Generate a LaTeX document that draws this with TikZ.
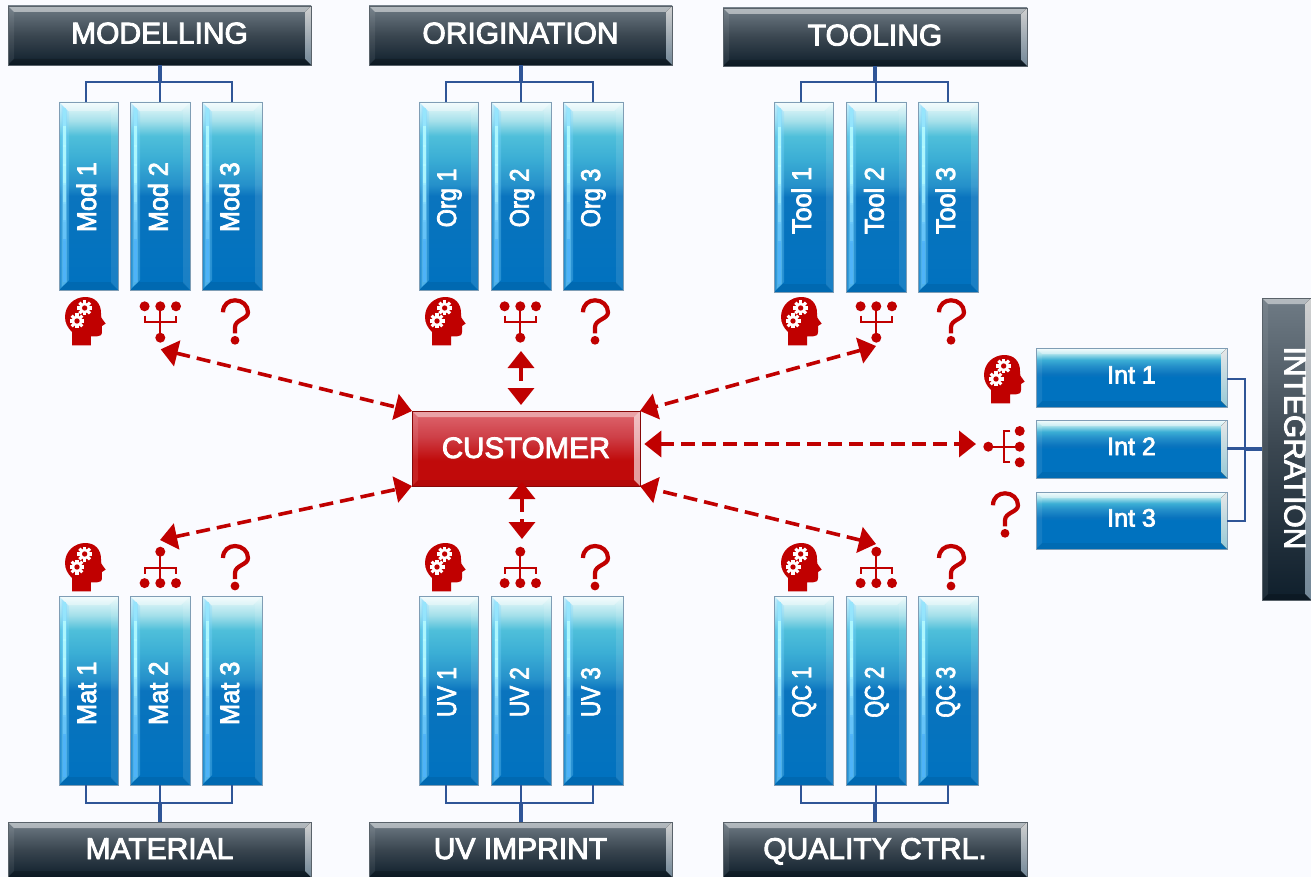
\documentclass[tikz,border=0pt]{standalone}
\usepackage{graphicx}
\usepackage{fontspec}
\setmainfont{Liberation Sans}
\newfontfamily\medfont[FakeBold=3]{Liberation Sans}
\usetikzlibrary{arrows.meta,calc}
\definecolor{bg}{HTML}{FAFBFF}
\definecolor{iconred}{HTML}{C00000}
\definecolor{linkblue}{HTML}{2F5597}
\definecolor{bA}{HTML}{EEFBFC}\definecolor{bB}{HTML}{A5E0EA}\definecolor{bC}{HTML}{4FBFDA}\definecolor{bD}{HTML}{3BAED5}\definecolor{bG}{HTML}{2590CA}\definecolor{bE}{HTML}{0A74BE}\definecolor{bF}{HTML}{0072BF}
\definecolor{dA}{HTML}{6F7B85}\definecolor{dB}{HTML}{3A4650}\definecolor{dC}{HTML}{0F1F2C}
\definecolor{rA}{HTML}{DC6068}\definecolor{rB}{HTML}{CE4048}\definecolor{rC}{HTML}{C00A0A}
\definecolor{glowtop}{HTML}{B4FBFF}\definecolor{glowlow}{HTML}{4FB4FA}
\definecolor{glowside}{HTML}{7FD8FF}
\definecolor{boxedge}{HTML}{7F9DB5}
\definecolor{barlow}{HTML}{8FA8BC}
\pgfdeclareverticalshading{bluetall}{100bp}{color(0bp)=(bF);color(25bp)=(bF);color(50bp)=(bE);color(53bp)=(bG);color(60bp)=(bD);color(66bp)=(bC);color(70bp)=(bB);color(75bp)=(bA);color(100bp)=(bA)}
\pgfdeclareverticalshading{bluewide}{100bp}{color(0bp)=(bF);color(25bp)=(bF);color(50bp)=(bF);color(53bp)=(bE);color(60bp)=(bG);color(65bp)=(bD);color(70bp)=(bB);color(75bp)=(bA);color(100bp)=(bA)}
\pgfdeclareverticalshading{darkbar}{100bp}{color(0bp)=(dC);color(25bp)=(dC);color(50bp)=(dB);color(75bp)=(dA);color(100bp)=(dA)}
\pgfdeclareverticalshading{redbar}{100bp}{color(0bp)=(rC);color(25bp)=(rC);color(42bp)=(rC);color(58bp)=(rB);color(72bp)=(rA);color(100bp)=(rA)}
\tikzset{
  x=1pt,y=-1pt,
  btnbase/.style={rectangle,inner sep=0pt,outer sep=0pt,text=white,align=center},
  bevelbands/.style n args={5}{path picture={
     \coordinate (nw) at (path picture bounding box.north west);
     \coordinate (ne) at (path picture bounding box.north east);
     \coordinate (sw) at (path picture bounding box.south west);
     \coordinate (se) at (path picture bounding box.south east);
     \fill[white,opacity=#2] (nw) -- (ne) -- ([shift={(-#1pt,-#1pt)}]ne) -- ([shift={(#1pt,-#1pt)}]nw) -- cycle;
     \fill[#3] (nw) -- ([shift={(#1pt,-#1pt)}]nw) -- ([shift={(#1pt,#1pt)}]sw) -- (sw) -- cycle;
     \fill[#4] (ne) -- ([shift={(-#1pt,-#1pt)}]ne) -- ([shift={(-#1pt,#1pt)}]se) -- (se) -- cycle;
     \fill[#5] (sw) -- ([shift={(#1pt,#1pt)}]sw) -- ([shift={(-#1pt,#1pt)}]se) -- (se) -- cycle;
  }},
  tallbox/.style={btnbase,shading=bluetall,draw=boxedge,line width=.7pt,
     path picture={
     \coordinate (nw) at (path picture bounding box.north west);
     \coordinate (ne) at (path picture bounding box.north east);
     \coordinate (sw) at (path picture bounding box.south west);
     \coordinate (se) at (path picture bounding box.south east);
     \fill[white,opacity=.35] (nw) -- (ne) -- ([shift={(-9pt,-9pt)}]ne) -- ([shift={(9pt,-9pt)}]nw) -- cycle;
     \fill[white,opacity=.1] (ne) -- ([shift={(-7pt,-7pt)}]ne) -- ([shift={(-7pt,7pt)}]se) -- (se) -- cycle;
     \fill[black,opacity=.07] (sw) -- ([shift={(9pt,8pt)}]sw) -- ([shift={(-7pt,8pt)}]se) -- (se) -- cycle;
     \fill[glowside,opacity=.3] ([shift={(1pt,-1pt)}]nw) -- ([shift={(10pt,-10pt)}]nw) -- ([shift={(10pt,10pt)}]sw) -- ([shift={(1pt,1pt)}]sw) -- cycle;
     \fill[glowside,opacity=.45] ([shift={(2.5pt,-3pt)}]nw) -- ([shift={(8pt,-8pt)}]nw) -- ([shift={(8pt,8pt)}]sw) -- ([shift={(2.5pt,3pt)}]sw) -- cycle;
     \foreach \fa/\fb/\mixv in {.03/.14/30,.13/.24/0,.23/.34/0,.33/.44/0,.43/.54/25,.53/.64/50,.63/.74/75,.73/.84/100,.83/.96/100}{
       \fill[glowlow!\mixv!glowtop,opacity=.9]
         ([xshift=4pt]$(nw)!\fa!(sw)$) rectangle ([xshift=6.8pt]$(nw)!\fb!(sw)$);
     }
     }},
  widebox/.style={btnbase,shading=bluewide,draw=boxedge,line width=.7pt,font=\medfont\fontsize{25}{25}\selectfont,text height=18pt,text depth=0pt,
     bevelbands={6}{.4}{white,opacity=.08}{top color=white,bottom color=bC!50!white,opacity=.9}{black,opacity=.06}},
  darkbox/.style={btnbase,shading=darkbar,draw=black!20!dA,line width=.8pt,font=\medfont\fontsize{30}{30}\selectfont,text height=22pt,text depth=0pt,
     bevelbands={6}{.48}{white,opacity=.07}{top color=white,bottom color=barlow,opacity=.8}{black,opacity=.2}},
  redbox/.style={btnbase,shading=redbar,draw=rC!70!black,line width=.8pt,font=\medfont\fontsize{29.5}{30}\selectfont,text height=21pt,text depth=0pt,
     bevelbands={6}{.42}{white,opacity=.1}{white,opacity=.6}{black,opacity=.06}},
  uptext/.style={text=white,inner sep=0pt,outer sep=0pt,font=\medfont\fontsize{27}{27}\selectfont,rotate=90,anchor=base west},
  sidetext/.style={text=white,inner sep=0pt,font=\medfont\fontsize{30}{30}\selectfont,rotate=-90},
  linkthin/.style={draw=linkblue,line width=2.6pt},
  linkthick/.style={draw=linkblue,line width=4pt},
  duplex/.style={draw=iconred,line width=3.6pt,dash pattern=on 14pt off 7pt,
     {Triangle[length=17pt,width=26pt]}-{Triangle[length=17pt,width=26pt]}},
  headicon/.pic={
    \begin{scope}[x=.3333pt,y=-.3333pt,shift={(-44,-80)}]
    \fill[iconred] (65,225) -- (65,185) .. controls (52,172) and (44,158) .. (44,140) .. controls (44,105) and (72,80) .. (105,80) .. controls (135,80) and (152,100) .. (152,128) -- (153,142) -- (166,160) -- (155,167) -- (155,185) .. controls (155,195) and (148,198) .. (140,198) -- (122,198) -- (122,225) -- cycle;
    \foreach \gx/\gy in {103/113,80/152}{
      \fill[white] (\gx,\gy) circle[radius=16.5];
      \foreach \ga in {0,45,...,315}
        \draw[white,line width=3.1pt] ($(\gx,\gy)+(\ga:12)$) -- ($(\gx,\gy)+(\ga:22.5)$);
      \fill[iconred] (\gx,\gy) circle[radius=8];
    }
    \end{scope}
  },
  treeicon/.pic={
    \draw[iconred,line width=2pt] (-15.7,-6) -- (-15.7,0) -- (15.7,0) -- (15.7,-6);
    \draw[iconred,line width=2pt] (0,-15.4) -- (0,16);
    \fill[iconred] (-15.7,-15.4) circle[radius=5pt];
    \fill[iconred] (0,-15.4) circle[radius=5pt];
    \fill[iconred] (15.7,-15.4) circle[radius=5pt];
    \fill[iconred] (0,16) circle[radius=5pt];
  },
  askicon/.pic={
    \draw[iconred,line width=4.2pt] (-12,-1) .. controls (-12,-9) and (-6,-13) .. (0,-13) .. controls (7,-13) and (13,-8) .. (13,-1) .. controls (13,6) and (0,6) .. (0,14) -- (0,20);
    \fill[iconred] (0,27) circle[radius=4.4pt];
  }
}
\newcommand\btn[7]{%
  \pgfmathsetmacro\bcx{(#3+#5)/2}\pgfmathsetmacro\bcy{(#4+#6)/2}%
  \pgfmathsetmacro\bw{#5-#3}\pgfmathsetmacro\bh{#6-#4}%
  \node[#1,minimum width=\bw pt,minimum height=\bh pt] (#2) at (\bcx,\bcy) {#7};}
\begin{document}
\begin{tikzpicture}
\useasboundingbox (0,0) rectangle (1311,877);
\fill[bg] (0,0) rectangle (1311,877);

% headers
\btn{darkbox}{hmod}{8}{6}{311}{65}{\raisebox{3pt}{MODELLING}}
\btn{darkbox}{horg}{369}{6}{672}{65}{\raisebox{3pt}{ORIGINATION}}
\btn{darkbox}{htool}{723}{8}{1027}{66}{\raisebox{2.5pt}{TOOLING}}
\btn{darkbox}{hmat}{8}{822}{311}{877}{\raisebox{1.5pt}{MATERIAL}}
\btn{darkbox}{huv}{369}{822}{672}{877}{\raisebox{1.5pt}{UV IMPRINT}}
\btn{darkbox}{hqc}{723}{822}{1027}{877}{\raisebox{1.5pt}{QUALITY CTRL.}}
\btn{darkbox}{hint}{1262}{298}{1311}{600}{}
\node[sidetext] (hintt) at (1295,448) {INTEGRATION};

% tall boxes
\foreach \pre/\lab/\xa/\xb/\xc/\tstart/\sx/\bt/\tp in {
   mod/Mod/59/130/202/232/.93/290/102,
   org/Org/419/491/563/227.3/.87/290/102,
   tool/Tool/774/846/918/234/.93/292/102,
   mat/Mat/59/130/202/725/.94/785/596,
   uv/UV/419/491/563/717/.83/785/596,
   qc/QC/774/846/918/717.7/.81/785/596}{
  \btn{tallbox}{\pre1}{\xa}{\tp}{\xa+59}{\bt}{}
  \btn{tallbox}{\pre2}{\xb}{\tp}{\xb+60}{\bt}{}
  \btn{tallbox}{\pre3}{\xc}{\tp}{\xc+60}{\bt}{}
  \node[uptext] (\pre1t) at (\xa+37,\tstart) {\scalebox{\sx}[1]{\lab\ 1}};
  \node[uptext] (\pre2t) at (\xb+37.7,\tstart) {\scalebox{\sx}[1]{\lab\ 2}};
  \node[uptext] (\pre3t) at (\xc+37,\tstart) {\scalebox{\sx}[1]{\lab\ 3}};
}

% wide boxes
\btn{widebox}{int1}{1036}{348}{1227}{407}{\raisebox{3pt}{Int 1}}
\btn{widebox}{int2}{1036}{420}{1227}{478}{\raisebox{3pt}{Int 2}}
\btn{widebox}{int3}{1036}{492}{1227}{549}{\raisebox{3pt}{Int 3}}

% customer
\btn{redbox}{cust}{412}{411}{640}{486}{\raisebox{1pt}{CUSTOMER}}

% links top
\foreach \h/\p/\y in {hmod/mod/82,horg/org/82,htool/tool/82}{
  \draw[linkthin] ([xshift=-2.5pt]\p1.north) -- ([xshift=-2.5pt]\p1.north|-0,\y) -- (\p3.north|-0,\y) -- (\p3.north);
  \draw[linkthin] (\p2.north) -- (\p2.north|-0,\y);
  \draw[linkthick] (\h.south) -- (\h.south|-0,\y);
}
\foreach \h/\p/\y in {hmat/mat/803,huv/uv/803,hqc/qc/803}{
  \draw[linkthin] ([xshift=-2.5pt]\p1.south) -- ([xshift=-2.5pt]\p1.south|-0,\y) -- (\p3.south|-0,\y) -- (\p3.south);
  \draw[linkthin] (\p2.south) -- (\p2.south|-0,\y);
  \draw[linkthick] (\h.north) -- (\h.north|-0,\y);
}
\coordinate (intbus) at (1245,448.5);
\draw[linkthin] ([yshift=-1.5pt]int1.east) -| (intbus);
\draw[linkthin] ([yshift=-.5pt]int3.east) -| (intbus);
\draw[linkthin] (int2.east|-intbus) -- (intbus);
\draw[linkthick] (intbus) -- (hint.west|-intbus);

% icons
\foreach \dx/\n in {0/a,360/b,716/c}{
  \pic (up\n head) at (65+\dx,297) {headicon};
  \pic (up\n tree) at (160.3+\dx,321.7) {treeicon};
  \pic (up\n ask) at (235+\dx,313.3) {askicon};
  \pic (lo\n head) at (65+\dx,543) {headicon};
  \pic[yscale=-1] (lo\n tree) at (160.3+\dx,567.7) {treeicon};
  \pic (lo\n ask) at (235+\dx,559) {askicon};
}
\pic (inthead) at (984,355) {headicon};
\pic[rotate=-90] (inttree) at (1004.3,446.7) {treeicon};
\pic (intask) at (1005,506.3) {askicon};

% customer links
\coordinate (tmod) at (160.7,349.3);
\coordinate (torg) at (521,351);
\coordinate (ttool) at (876,346);
\coordinate (tint) at (976,444);
\coordinate (tmat) at (160,540);
\coordinate (tuv) at (522,539);
\coordinate (tqc) at (876,544);
\coordinate (corg) at (521,405);
\coordinate (cint) at (644.3,444);
\coordinate (cuv) at (522,482);
\draw[duplex] (tmod) -- (cust.north west);
\draw[duplex] (torg) -- (corg);
\draw[duplex] (ttool) -- (cust.north east);
\draw[duplex] (cint) -- (tint);
\draw[duplex] (tmat) -- (cust.south west);
\draw[duplex] (cuv) -- (tuv);
\draw[duplex] (tqc) -- (cust.south east);
\end{tikzpicture}
\end{document}
